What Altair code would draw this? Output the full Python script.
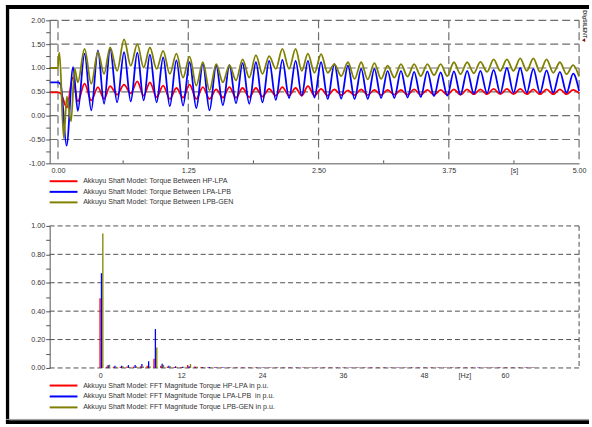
import altair as alt
import pandas as pd

# ---------------- top panel: torque time series (p.u.) ----------------
# transient part (time [s], value) per series
red_t0 = [-0.08, 0.0, 0.025, 0.085, 0.141, 0.19]
red_v0 = [0.49, 0.49, 0.47, 0.17, 0.80, 0.30]
blue_t0 = [-0.08, 0.0, 0.025, 0.082, 0.145, 0.19]
blue_v0 = [0.70, 0.70, 0.66, -0.63, 1.02, 0.10]
olive_t0 = [-0.08, 0.0, 0.004, 0.014, 0.055, 0.085, 0.125, 0.16, 0.19]
olive_v0 = [1.00, 1.00, 1.20, 1.32, -0.47, 0.40, -0.12, 0.98, 0.70]

# oscillation extrema (peak, trough, peak, ... , end)
osc_t = [0.255, 0.319, 0.383, 0.442, 0.500, 0.567, 0.634, 0.698, 0.761, 0.822,
         0.882, 0.946, 1.009, 1.073, 1.136, 1.200, 1.263, 1.327, 1.390, 1.454,
         1.518, 1.582, 1.645, 1.708, 1.771, 1.835, 1.899, 1.962, 2.026, 2.090,
         2.153, 2.217, 2.280, 2.339, 2.398, 2.461, 2.524, 2.588, 2.652, 2.717,
         2.782, 2.846, 2.909, 2.972, 3.036, 3.100, 3.163, 3.227, 3.291, 3.354,
         3.417, 3.481, 3.544, 3.608, 3.672, 3.735, 3.799, 3.862, 3.926, 3.990,
         4.053, 4.117, 4.180, 4.244, 4.307, 4.371, 4.435, 4.498, 4.561, 4.625,
         4.688, 4.752, 4.816, 4.880, 4.943, 5.000]
red_osc = [0.67, 0.32, 0.60, 0.35, 0.62, 0.44, 0.65, 0.47, 0.72, 0.42,
           0.70, 0.39, 0.63, 0.35, 0.58, 0.38, 0.65, 0.35, 0.60, 0.35,
           0.55, 0.38, 0.60, 0.38, 0.58, 0.39, 0.58, 0.40, 0.56, 0.42,
           0.60, 0.42, 0.58, 0.42, 0.62, 0.42, 0.56, 0.42, 0.55, 0.43,
           0.53, 0.43, 0.55, 0.43, 0.54, 0.43, 0.54, 0.44, 0.54, 0.44,
           0.55, 0.44, 0.54, 0.44, 0.54, 0.44, 0.55, 0.44, 0.55, 0.45,
           0.55, 0.45, 0.56, 0.45, 0.56, 0.45, 0.56, 0.45, 0.55, 0.45,
           0.55, 0.45, 0.55, 0.45, 0.54, 0.47]
blue_osc = [1.30, 0.11, 1.37, 0.25, 1.40, 0.28, 1.33, 0.30, 1.32, 0.32,
            1.28, 0.28, 1.22, 0.20, 1.16, 0.21, 1.12, 0.16, 1.08, 0.11,
            1.05, 0.22, 1.06, 0.26, 1.10, 0.25, 1.12, 0.28, 1.15, 0.33,
            1.17, 0.37, 1.15, 0.42, 1.15, 0.38, 1.12, 0.35, 1.08, 0.36,
            1.05, 0.35, 0.98, 0.35, 0.98, 0.37, 0.94, 0.37, 0.94, 0.38,
            0.92, 0.39, 0.93, 0.41, 0.91, 0.42, 0.93, 0.44, 0.94, 0.46,
            0.94, 0.47, 0.96, 0.47, 1.00, 0.48, 1.00, 0.48, 0.98, 0.48,
            0.95, 0.48, 0.92, 0.48, 0.88, 0.52]
olive_osc = [1.40, 0.67, 1.34, 0.875, 1.43, 0.94, 1.60, 1.05, 1.50, 1.01,
             1.43, 0.98, 1.36, 0.875, 1.30, 0.80, 1.24, 0.63, 1.12, 0.53,
             1.08, 0.70, 1.06, 0.74, 1.18, 0.80, 1.27, 0.875, 1.25, 0.98,
             1.40, 0.98, 1.40, 0.94, 1.30, 0.90, 1.29, 0.90, 1.08, 0.83,
             1.12, 0.77, 1.12, 0.76, 1.10, 0.77, 1.05, 0.80, 1.08, 0.82,
             1.08, 0.83, 1.08, 0.85, 1.08, 0.83, 1.12, 0.87, 1.12, 0.89,
             1.13, 0.92, 1.18, 0.94, 1.18, 0.94, 1.20, 0.94, 1.20, 0.92,
             1.18, 0.90, 1.12, 0.87, 1.06, 0.82]

top_labels = ["Akkuyu Shaft Model: Torque Between HP-LPA",
              "Akkuyu Shaft Model: Torque Between LPA-LPB",
              "Akkuyu Shaft Model: Torque Between LPB-GEN"]

# ---------------- bottom panel: FFT magnitudes (p.u.) ----------------
fft_hz = list(range(0, 65))
red_fft = [0.490, 0.010, 0.008, 0.008, 0.010, 0.010, 0.012, 0.016, 0.065, 0.016, 0.010,
           0.007, 0.006, 0.020, 0.010, 0.006, 0.005, 0.005, 0.004, 0.004, 0.004,
           0.004, 0.004, 0.004, 0.003, 0.003, 0.003, 0.003, 0.003, 0.003, 0.003, 0.003,
           0.003, 0.003, 0.003, 0.003, 0.003, 0.003, 0.003, 0.003, 0.003, 0.003, 0.003,
           0.003, 0.003, 0.003, 0.003, 0.003, 0.003, 0.003, 0.003, 0.003, 0.003, 0.003,
           0.003, 0.003, 0.003, 0.003, 0.003, 0.003, 0.003, 0.003, 0.003, 0.003, 0.003]
blue_fft = [0.667, 0.020, 0.016, 0.016, 0.020, 0.020, 0.028, 0.047, 0.274, 0.030, 0.016,
            0.012, 0.008, 0.012, 0.008, 0.006, 0.006, 0.005, 0.005, 0.004, 0.004,
            0.004, 0.004, 0.004, 0.004, 0.003, 0.003, 0.003, 0.003, 0.003, 0.003, 0.003,
            0.003, 0.003, 0.003, 0.003, 0.003, 0.003, 0.003, 0.003, 0.003, 0.003, 0.003,
            0.003, 0.003, 0.003, 0.003, 0.003, 0.003, 0.003, 0.003, 0.003, 0.003, 0.003,
            0.003, 0.003, 0.003, 0.003, 0.003, 0.003, 0.003, 0.003, 0.003, 0.003, 0.003]
olive_fft = [0.947, 0.023, 0.008, 0.012, 0.006, 0.012, 0.010, 0.012, 0.144, 0.022, 0.012,
             0.006, 0.008, 0.028, 0.008, 0.005, 0.005, 0.004, 0.004, 0.004, 0.003,
             0.003, 0.003, 0.003, 0.003, 0.003, 0.003, 0.003, 0.003, 0.003, 0.003, 0.003,
             0.003, 0.003, 0.003, 0.003, 0.003, 0.003, 0.003, 0.003, 0.003, 0.003, 0.003,
             0.003, 0.003, 0.003, 0.003, 0.003, 0.003, 0.003, 0.003, 0.003, 0.003, 0.003,
             0.003, 0.003, 0.003, 0.003, 0.003, 0.003, 0.003, 0.003, 0.003, 0.003, 0.003]

bottom_labels = ["Akkuyu Shaft Model: FFT Magnitude Torque HP-LPA in p.u.",
                 "Akkuyu Shaft Model: FFT Magnitude Torque LPA-LPB\u00a0 in p.u.",
                 "Akkuyu Shaft Model: FFT Magnitude Torque LPB-GEN in p.u."]

colors = ["#ff0000", "#0000ff", "#808000"]

# ---------------- styling ----------------
FONT = "Liberation Sans"
W, H1, H2 = 533, 144, 143
AX = "#555555"
TXT = "#333333"
MINUS = "\u2212"

xs1 = alt.Scale(domain=[-0.08, 5.0], nice=False, zero=False)
ys1 = alt.Scale(domain=[-1.0, 2.0], nice=False, zero=False)
xa1 = alt.Axis(values=[0, 0.625, 1.25, 1.875, 2.5, 3.125, 3.75, 4.375, 5.0],
               labelExpr="datum.value == 4.375 ? '[s]' : ((datum.value*8) % 2 == 0 ? format(datum.value, '.2f') : '')",
               ticks=False, grid=False, domain=True, domainColor=AX, domainWidth=1,
               labelFontSize=7.2, labelColor=TXT, labelFont=FONT, labelPadding=3,
               labelFlush=False, labelOverlap=False, title=None, zindex=1)
ya1 = alt.Axis(values=[-1.0, -0.75, -0.5, -0.25, 0.0, 0.25, 0.5, 0.75, 1.0, 1.25, 1.5, 1.75, 2.0],
               labelExpr="((datum.value*4) % 2 == 0) ? replace(format(datum.value, '.2f'), '" + MINUS + "', '-') : ''",
               grid=False, domain=True, domainColor=AX, tickColor=AX, tickSize=4,
               labelFontSize=7.2, labelColor=TXT, labelFont=FONT, labelPadding=1,
               labelFlush=False, labelOverlap=False, title=None, zindex=1)

xs2 = alt.Scale(domain=[-7.5, 71.0], nice=False, zero=False)
ys2 = alt.Scale(domain=[0.0, 1.0], nice=False, zero=False)
xa2 = alt.Axis(values=[0, 12, 24, 36, 48, 54, 60],
               labelExpr="datum.value == 54 ? '[Hz]' : datum.value",
               ticks=False, grid=False, domain=False,
               labelFontSize=7.2, labelColor=TXT, labelFont=FONT, labelPadding=4,
               labelFlush=False, labelOverlap=False, title=None, zindex=1)
ya2 = alt.Axis(values=[0.0, 0.1, 0.2, 0.3, 0.4, 0.5, 0.6, 0.7, 0.8, 0.9, 1.0],
               labelExpr="(round(datum.value*10) % 2 == 0) ? format(datum.value, '.2f') : ''",
               grid=False, domain=True, domainColor=AX, tickColor=AX, tickSize=4,
               labelFontSize=7.2, labelColor=TXT, labelFont=FONT, labelPadding=1,
               labelFlush=False, labelOverlap=False, title=None, zindex=1)

one = pd.DataFrame({"k": [0]})

# ---------------- top chart layers ----------------
bg = alt.Chart(one).mark_rect(color="white").encode(
    x=alt.value(-49), x2=alt.value(543), y=alt.value(-18), y2=alt.value(409))

frame = [
    alt.Chart(one).mark_rule(color="black", strokeWidth=4).encode(
        x=alt.value(-44), x2=alt.value(543), y=alt.value(-13.3)),
    alt.Chart(one).mark_rule(color="black", strokeWidth=3.3).encode(
        x=alt.value(-42.4), y=alt.value(-15.3), y2=alt.value(406.3)),
    alt.Chart(one).mark_rule(color="#999999", strokeWidth=1).encode(
        x=alt.value(-44), x2=alt.value(543), y=alt.value(401.8)),
    alt.Chart(one).mark_rule(color="black", strokeWidth=3.6).encode(
        x=alt.value(-44), x2=alt.value(543), y=alt.value(404.5)),
]

hgrid1 = alt.Chart(pd.DataFrame({"v": [-0.5, 0.0, 0.5, 1.0, 1.5, 2.0]})).mark_rule(
    color="#6e6e6e", strokeWidth=1.2, strokeDash=[8, 4]).encode(
    y=alt.Y("v:Q", scale=ys1, axis=ya1), x=alt.value(0), x2=alt.value(W))
vgrid1 = alt.Chart(pd.DataFrame({"t": [0.0, 1.25, 2.5, 3.75, 5.0]})).mark_rule(
    color="#6e6e6e", strokeWidth=1.2, strokeDash=[8, 4]).encode(
    x=alt.X("t:Q", scale=xs1, axis=xa1), y=alt.value(0), y2=alt.value(H1))
mticks1 = alt.Chart(pd.DataFrame({"t": [0.625, 1.875, 3.125, 4.375]})).mark_rule(
    color=AX, strokeWidth=1).encode(
    x=alt.X("t:Q", scale=xs1, axis=xa1), y=alt.value(H1 - 3), y2=alt.value(H1))


def series_line(ts, vs, col):
    df = pd.DataFrame({"t": ts, "v": vs})
    return alt.Chart(df).mark_line(color=col, strokeWidth=1.8, interpolate="monotone").encode(
        x=alt.X("t:Q", scale=xs1, axis=xa1), y=alt.Y("v:Q", scale=ys1, axis=ya1))


lines1 = [
    series_line(red_t0 + osc_t, red_v0 + red_osc, colors[0]),
    series_line(blue_t0 + osc_t, blue_v0 + blue_osc, colors[1]),
    series_line(olive_t0 + osc_t, olive_v0 + olive_osc, colors[2]),
]


def legend_layers(labels, ys):
    out = []
    for lab, yy, col in zip(labels, ys, colors):
        out.append(alt.Chart(one).mark_rule(color=col, strokeWidth=2).encode(
            x=alt.value(0), x2=alt.value(28), y=alt.value(yy)))
        out.append(alt.Chart(pd.DataFrame({"label": [lab]})).mark_text(
            align="left", baseline="middle", font=FONT, fontSize=7.1, color=TXT).encode(
            x=alt.value(33.7), y=alt.value(yy), text="label:N"))
    return out


logo = [
    alt.Chart(pd.DataFrame({"label": ["DIgSILENT"]})).mark_text(
        angle=90, align="center", baseline="middle", font=FONT, fontSize=5.5,
        fontWeight="bold", color="#444444").encode(
        x=alt.value(538.5), y=alt.value(4), text="label:N"),
    alt.Chart(one).mark_point(shape="triangle-left", filled=True, size=14,
                              color="#7a1010", opacity=1).encode(
        x=alt.value(537.5), y=alt.value(20)),
]

top = alt.layer(bg, *frame, hgrid1, vgrid1, mticks1, *lines1,
                *legend_layers(top_labels, [162, 172.7, 183.3]), *logo).properties(
    width=W, height=H1)

# ---------------- bottom chart layers ----------------
hgrid2 = alt.Chart(pd.DataFrame({"v": [0.0, 0.2, 0.4, 0.6, 0.8, 1.0]})).mark_rule(
    color="#505050", strokeWidth=1, strokeDash=[5, 3]).encode(
    y=alt.Y("v:Q", scale=ys2, axis=ya2), x=alt.value(0), x2=alt.value(W))
vgrid2 = alt.Chart(pd.DataFrame({"f": [71.0]})).mark_rule(
    color="#505050", strokeWidth=1, strokeDash=[5, 3]).encode(
    x=alt.X("f:Q", scale=xs2, axis=xa2), y=alt.value(0), y2=alt.value(H2))


def fft_bars(vals, col, off):
    df = pd.DataFrame({"f": fft_hz, "m": vals})
    return alt.Chart(df).mark_rule(color=col, strokeWidth=1.3, xOffset=off).encode(
        x=alt.X("f:Q", scale=xs2, axis=xa2),
        y=alt.Y("m:Q", scale=ys2, axis=ya2),
        y2=alt.datum(0))


bars2 = [fft_bars(red_fft, colors[0], -0.2),
         fft_bars(blue_fft, colors[1], 1.2),
         fft_bars(olive_fft, colors[2], 2.6)]

bottom = alt.layer(hgrid2, vgrid2, *bars2,
                   *legend_layers(bottom_labels, [160.7, 171.7, 182.7])).properties(
    width=W, height=H2)

chart = alt.vconcat(top, bottom, spacing=63, bounds="flush").properties(
    padding=0, background="white").configure_view(stroke="transparent")

chart.save("out.html", embed_options={"renderer": "svg", "actions": False})
